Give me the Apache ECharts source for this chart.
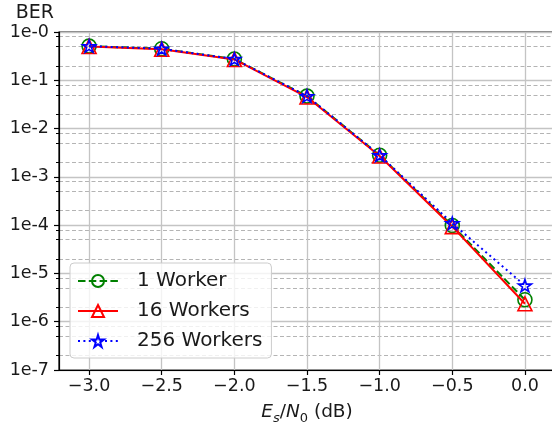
<!DOCTYPE html>
<html>
<head>
<meta charset="utf-8">
<script src="https://cdn.jsdelivr.net/npm/echarts@6/dist/echarts.min.js"></script>
<style>
  html, body { margin: 0; padding: 0; background: #fff; }
  #main { width: 552px; height: 427px; }
</style>
</head>
<body>
<div id="main"></div>
<script>
// Es/N0 points (dB)
var snr = [-3.0, -2.5, -2.0, -1.5, -1.0, -0.5, 0.0];
// BER
var ber1 = [0.51, 0.45, 0.275, 0.047, 2.8e-3, 9.8e-5, 2.85e-6];
var ber16 = [0.50, 0.44, 0.27, 0.045, 2.7e-3, 9.3e-5, 2.35e-6];
var ber256 = [0.51, 0.45, 0.275, 0.047, 2.8e-3, 1.09e-4, 5.6e-6];

var xTicks = [-3.0, -2.5, -2.0, -1.5, -1.0, -0.5, 0.0];
var yExp = [-7, -6, -5, -4, -3, -2, -1, 0];   // decades 1e-7 .. 1e-0
var minorSubs = [2, 5, 8];

var names = ['1 Worker', '16 Workers', '256 Workers'];

// minor grid positions (2,5,8 x 10^k), in log10 units
var minorLog = [];
yExp.slice(0, -1).forEach(function (e) {
    minorSubs.forEach(function (s) { minorLog.push(Math.log10(s) + e); });
});

function toPoints(ber) {
    return snr.map(function (x, i) { return [x, Math.log10(ber[i])]; });
}

var starPath = 'path://M50,0 L61,35 L98,35 L68,57 L79,91 L50,70 L21,91 L32,57 L2,35 L39,35 Z';
var tickFont = 17.5;

var chart = echarts.init(document.getElementById('main'));
var option = {
    animation: false,
    backgroundColor: '#fff',
    textStyle: { fontFamily: 'DejaVu Sans' },
    grid: {
        left: 59, top: 32, right: -3, bottom: 57,
        outerBoundsMode: 'none',
        containLabel: false,
        show: true, borderColor: '#000', borderWidth: 1.2,
        backgroundColor: 'transparent'
    },
    legend: {
        orient: 'vertical',
        left: 70, top: 263,
        padding: [8, 9, 7, 7],
        itemGap: 10,
        itemWidth: 40,
        itemHeight: 15,
        backgroundColor: 'rgba(255,255,255,0.8)',
        borderColor: '#cccccc',
        borderWidth: 1,
        borderRadius: 4,
        textStyle: { fontSize: 20, color: '#1a1a1a', padding: [0, 0, 0, 14] },
        data: names
    },
    xAxis: {
        type: 'value',
        min: -3.207, max: 0.207,
        name: '{i|E}{is|s}{n|/}{i|N}{s|0}{n| (dB)}',
        nameLocation: 'middle',
        nameGap: 29,
        nameTextStyle: {
            rich: {
                i: { fontSize: 18.5, fontStyle: 'italic', color: '#1a1a1a', lineHeight: 26, verticalAlign: 'middle' },
                n: { fontSize: 18.5, color: '#1a1a1a', lineHeight: 26, verticalAlign: 'middle' },
                is: { fontSize: 13, fontStyle: 'italic', color: '#1a1a1a', lineHeight: 26, verticalAlign: 'bottom' },
                s: { fontSize: 13, color: '#1a1a1a', lineHeight: 26, verticalAlign: 'bottom' }
            }
        },
        axisLine: { onZero: false, lineStyle: { color: '#000', width: 1.2 } },
        axisTick: { customValues: xTicks, length: 5, lineStyle: { color: '#000', width: 1.2 } },
        axisLabel: {
            customValues: xTicks,
            fontSize: tickFont, color: '#1a1a1a', margin: 7,
            formatter: function (v) { return v < 0 ? '\u2212' + (-v).toFixed(1) : v.toFixed(1); }
        },
        splitLine: { show: true, lineStyle: { color: '#c4c4c4', width: 1.3 } }
    },
    yAxis: [
        {
            type: 'value',
            min: -7, max: 0, interval: 1,
            name: 'BER',
            nameLocation: 'end',
            nameGap: 9,
            nameTextStyle: { fontSize: 19, color: '#1a1a1a', align: 'right', padding: [0, 5, 0, 0] },
            axisLine: { onZero: false, lineStyle: { color: '#000', width: 1.2 } },
            axisTick: { length: 5, lineStyle: { color: '#000', width: 1.2 } },
            axisLabel: {
                fontSize: tickFont, color: '#1a1a1a', margin: 10,
                formatter: function (v) { return '1e-' + Math.abs(Math.round(v)); }
            },
            splitLine: { show: true, lineStyle: { color: '#c4c4c4', width: 1.3 } }
        },
        {
            type: 'value',
            min: -7, max: 0,
            position: 'left',
            axisLine: { show: false, onZero: false },
            axisLabel: { show: false },
            axisTick: { customValues: minorLog, length: 3, lineStyle: { color: '#000', width: 1 } },
            splitLine: { show: true, lineStyle: { color: '#b4b4b4', width: 1, type: [4, 2.5] } }
        }
    ],
    series: [
        {
            name: names[0], type: 'line', data: toPoints(ber1),
            symbol: 'circle', symbolSize: 14,
            lineStyle: { color: '#008000', width: 2, type: [7.5, 3.3] },
            itemStyle: { color: 'rgba(0,0,0,0)', borderColor: '#008000', borderWidth: 1.6 },
            z: 3
        },
        {
            name: names[1], type: 'line', data: toPoints(ber16),
            symbol: 'triangle', symbolSize: 14,
            lineStyle: { color: '#ff0000', width: 2 },
            itemStyle: { color: 'rgba(0,0,0,0)', borderColor: '#ff0000', borderWidth: 1.6 },
            z: 4
        },
        {
            name: names[2], type: 'line', data: toPoints(ber256),
            symbol: starPath, symbolSize: 13, symbolKeepAspect: true,
            lineStyle: { color: '#0000ff', width: 2, type: [2, 3.4] },
            itemStyle: { color: 'rgba(0,0,0,0)', borderColor: '#0000ff', borderWidth: 1.6 },
            z: 5
        }
    ]
};
chart.setOption(option);
</script>
</body>
</html>
